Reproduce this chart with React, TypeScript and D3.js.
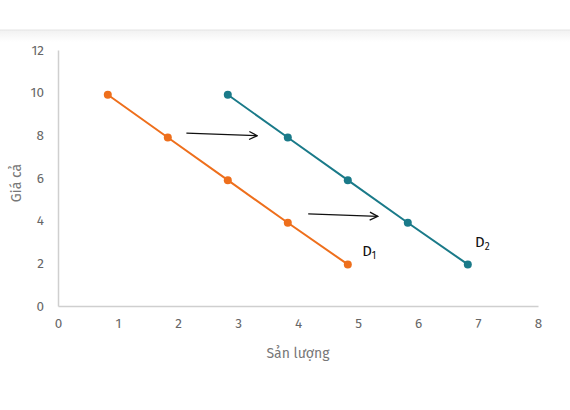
import React, { useEffect, useRef } from 'react';
import * as d3 from 'd3';

// demand curves
const d1X = [0.83, 1.83, 2.83, 3.83, 4.83];
const d1Y = [9.9, 7.9, 5.9, 3.9, 1.95];
const d2X = [2.83, 3.83, 4.83, 5.83, 6.83];
const d2Y = [9.9, 7.9, 5.9, 3.9, 1.95];
const xTicks = [0, 1, 2, 3, 4, 5, 6, 7, 8];
const yTicks = [0, 2, 4, 6, 8, 10, 12];
// shift arrows: [x0, y0, x1, y1]
const arrows = [
  [2.14, 8.1, 3.32, 7.98],
  [4.17, 4.32, 5.33, 4.2],
];

const App: React.FC = () => {
  const svgRef = useRef<SVGSVGElement>(null);

  useEffect(() => {
    if (!svgRef.current) return;
    const svg = d3.select(svgRef.current);
    svg.selectAll('*').remove();

    const width = 570;
    const height = 410;
    const margin = { top: 50, right: 32, bottom: 104, left: 58 };
    const innerW = width - margin.left - margin.right;
    const innerH = height - margin.top - margin.bottom;
    const font = "'Fira Sans', 'Open Sans', 'Noto Sans', sans-serif";

    // card edge at top
    const defs = svg.append('defs');
    const grad = defs.append('linearGradient').attr('id', 'topShade')
      .attr('x1', 0).attr('y1', 0).attr('x2', 0).attr('y2', 1);
    grad.append('stop').attr('offset', '0%').attr('stop-color', '#f1f1f1');
    grad.append('stop').attr('offset', '100%').attr('stop-color', '#ffffff');
    const marker = defs.append('marker').attr('id', 'arrowHead')
      .attr('viewBox', '0 0 10 10').attr('refX', 9).attr('refY', 5)
      .attr('markerWidth', 10).attr('markerHeight', 10)
      .attr('markerUnits', 'userSpaceOnUse').attr('orient', 'auto');
    marker.append('path').attr('d', 'M1,1 L9,5 L1,9')
      .attr('fill', 'none').attr('stroke', '#111').attr('stroke-width', 1.3);

    svg.append('rect').attr('x', 0).attr('y', 30).attr('width', width).attr('height', 12)
      .attr('fill', 'url(#topShade)');
    svg.append('line').attr('x1', 0).attr('x2', width).attr('y1', 30).attr('y2', 30)
      .attr('stroke', '#e4e4e4');

    const x = d3.scaleLinear().domain([0, 8]).range([0, innerW]);
    const y = d3.scaleLinear().domain([0, 12]).range([innerH, 0]);

    const g = svg.append('g').attr('transform', `translate(${margin.left},${margin.top})`);

    // axes
    const xAxis = g.append('g').attr('transform', `translate(0,${innerH})`)
      .call(d3.axisBottom(x).tickValues(xTicks).tickSize(0).tickPadding(12).tickFormat(d3.format('d')));
    const yAxis = g.append('g')
      .call(d3.axisLeft(y).tickValues(yTicks).tickSize(0).tickPadding(14).tickFormat(d3.format('d')));
    [xAxis, yAxis].forEach(a => {
      a.select('.domain').attr('stroke', '#cfcfcf').attr('stroke-width', 1.5);
      a.selectAll('text').attr('fill', '#666').attr('font-size', '13.5px').attr('font-family', font);
    });

    g.append('text')
      .attr('x', innerW / 2).attr('y', innerH + 52)
      .attr('text-anchor', 'middle').attr('fill', '#777')
      .attr('font-size', '14px').attr('font-family', font)
      .text('Sản lượng');
    g.append('text')
      .attr('transform', `translate(${-37},${innerH / 2 + 5}) rotate(-90)`)
      .attr('text-anchor', 'middle').attr('fill', '#777')
      .attr('font-size', '14px').attr('font-family', font)
      .text('Giá cả');

    const line = d3.line<[number, number]>().x(d => x(d[0])).y(d => y(d[1]));
    const series = [
      { xs: d1X, ys: d1Y, color: '#ee6f1c', label: '1', lx: 5.07, ly: 2.35 },
      { xs: d2X, ys: d2Y, color: '#1a7a89', label: '2', lx: 6.95, ly: 2.75 },
    ];

    series.forEach(s => {
      const pts: [number, number][] = s.xs.map((v, i) => [v, s.ys[i]]);
      g.append('path').datum(pts).attr('d', line)
        .attr('fill', 'none').attr('stroke', s.color).attr('stroke-width', 2);
      g.selectAll(null).data(pts).enter().append('circle')
        .attr('cx', d => x(d[0])).attr('cy', d => y(d[1])).attr('r', 4)
        .attr('fill', s.color);
      const t = g.append('text')
        .attr('x', x(s.lx)).attr('y', y(s.ly))
        .attr('fill', '#111').attr('font-size', '15px').attr('font-family', font);
      t.append('tspan').text('D');
      t.append('tspan').attr('font-size', '10px').attr('dy', 3).text(s.label);
    });

    arrows.forEach(a => {
      g.append('line')
        .attr('x1', x(a[0])).attr('y1', y(a[1]))
        .attr('x2', x(a[2])).attr('y2', y(a[3]))
        .attr('stroke', '#111').attr('stroke-width', 1.3)
        .attr('marker-end', 'url(#arrowHead)');
    });
  }, []);

  return (
    <svg ref={svgRef} width={570} height={410}
      style={{ position: 'absolute', left: 0, top: 0, background: '#fff' }} />
  );
};

export default App;
